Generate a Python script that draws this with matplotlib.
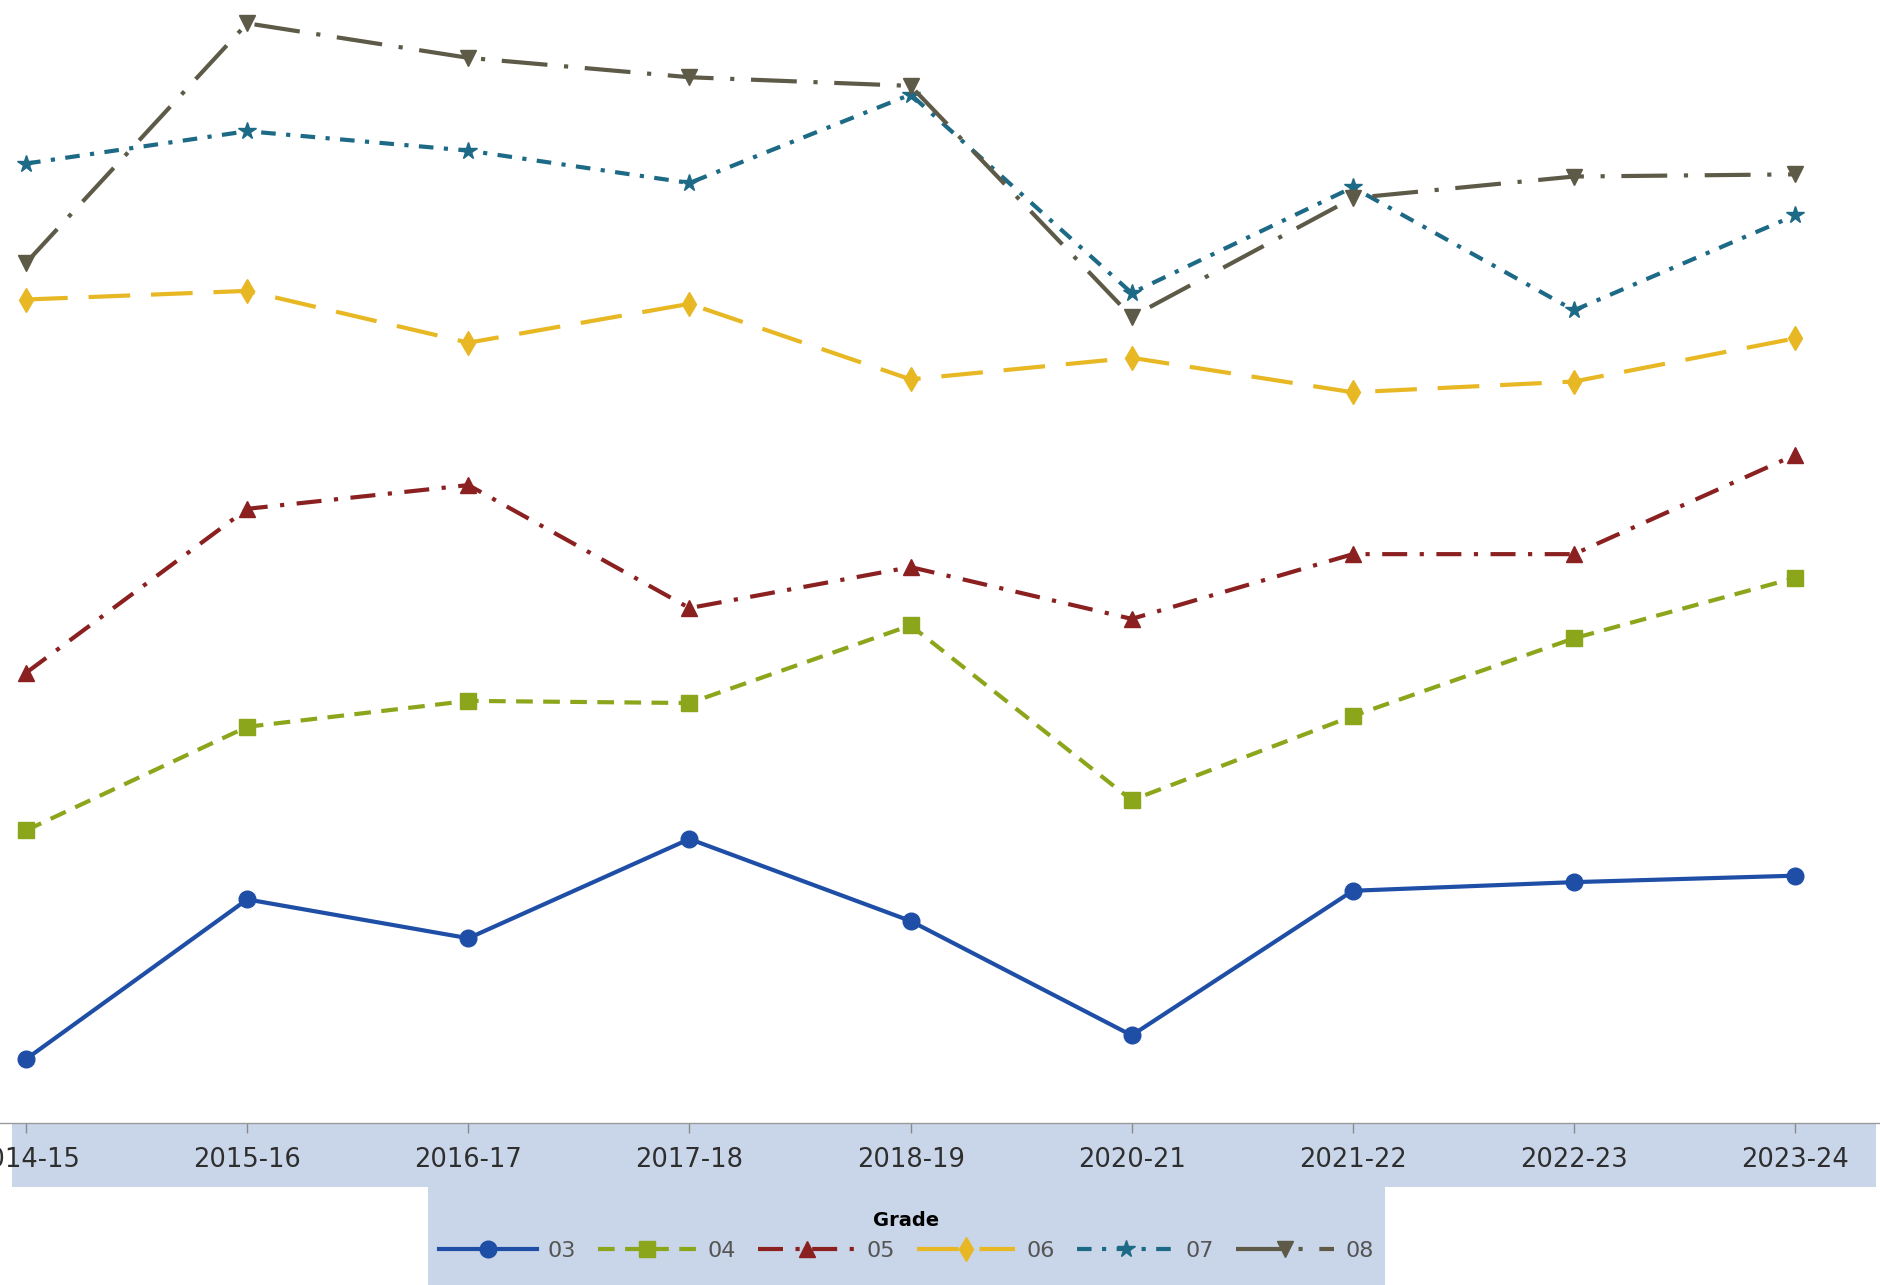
import matplotlib.pyplot as plt
from matplotlib.patches import Rectangle

# Años escolares y resultados por grado
anios = ['2014-15', '2015-16', '2016-17', '2017-18', '2018-19',
         '2020-21', '2021-22', '2022-23', '2023-24']
grado_03 = [18.7, 26.1, 24.3, 28.9, 25.1, 19.8, 26.5, 26.9, 27.2]
grado_04 = [29.3, 34.1, 35.3, 35.2, 38.8, 30.7, 34.6, 38.2, 41.0]
grado_05 = [36.6, 44.2, 45.3, 39.6, 41.5, 39.1, 42.1, 42.1, 46.7]
grado_06 = [53.9, 54.3, 51.9, 53.7, 50.2, 51.2, 49.6, 50.1, 52.1]
grado_07 = [60.2, 61.7, 60.8, 59.3, 63.4, 54.2, 59.1, 53.4, 57.8]
grado_08 = [55.6, 66.7, 65.1, 64.2, 63.8, 53.1, 58.6, 59.6, 59.7]
etiquetas = ['03', '04', '05', '06', '07', '08']

fondo = '#c9d5e8'

fig = plt.figure(figsize=(18.8, 12.85), dpi=100)
# banda del eje x y caja de la leyenda, por debajo de todo
fig.patches.append(Rectangle((0.0064, 0.0763), 0.9916, 0.0498, transform=fig.transFigure,
                             facecolor=fondo, edgecolor='none', zorder=-10))
fig.patches.append(Rectangle((0.2277, 0.0), 0.509, 0.0763, transform=fig.transFigure,
                             facecolor=fondo, edgecolor='none', zorder=-10))

ax = fig.add_axes([0, 0.1261, 1, 0.8739])
ax.patch.set_alpha(0)

x = list(range(len(anios)))
series = [
    (grado_03, '#1f4ea6', '-', 'o', 12),
    (grado_04, '#8ca61c', (0, (4, 2.5)), 's', 11),
    (grado_05, '#8b2020', (0, (6, 3, 1, 3)), '^', 12),
    (grado_06, '#e8b824', (0, (10, 5)), 'd', 12),
    (grado_07, '#1d6a86', (0, (3.5, 2.5, 1, 2.5)), '*', 13),
    (grado_08, '#5e5a48', (0, (11, 4, 1, 4)), 'v', 12),
]
for (vals, color, ls, mk, ms), lab in zip(series, etiquetas):
    ax.plot(x, vals, color=color, linestyle=ls, linewidth=3, marker=mk,
            markersize=ms, label=lab, clip_on=False)

ax.set_xlim(-0.118, 8.384)
ax.set_ylim(15.74, 67.78)
ax.set_yticks([])
for lado in ['top', 'right', 'left']:
    ax.spines[lado].set_visible(False)
ax.spines['bottom'].set_color('#9a9a9a')
ax.spines['bottom'].set_linewidth(1)
ax.set_xticks(x)
ax.set_xticklabels(anios, fontsize=18.5, color='#2e2e2e')
ax.tick_params(axis='x', length=7, width=1, color='#8a8a8a', pad=10)

ley = fig.legend(loc='center', bbox_to_anchor=(0.482, 0.038), ncol=6, frameon=False,
                 title='Grade', handlelength=4.4, columnspacing=1.0,
                 handletextpad=0.5, prop={'size': 16})
ley.get_title().set_fontweight('bold')
ley.get_title().set_fontsize(14)
for t in ley.get_texts():
    t.set_color('#555555')

fig.savefig('out.png', dpi=100)
